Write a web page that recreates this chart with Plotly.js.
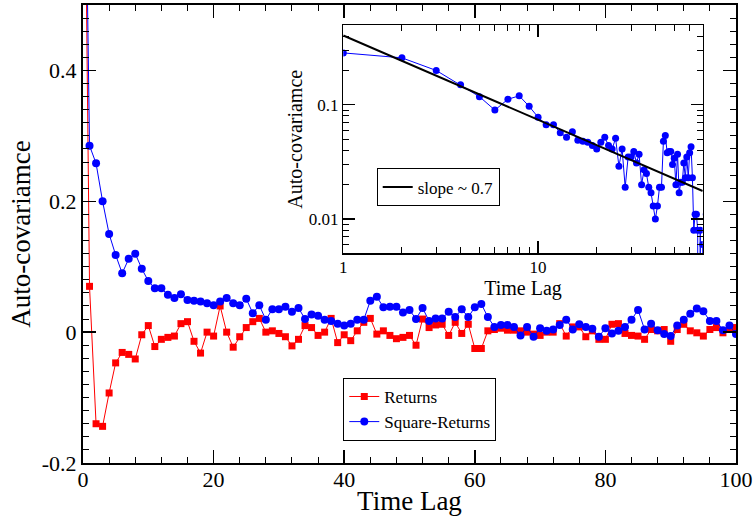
<!DOCTYPE html>
<html>
<head>
<meta charset="utf-8">
<script src="https://cdn.plot.ly/plotly-3.0.1.min.js"></script>
<style>
  html, body { margin: 0; padding: 0; background: #fff; }
  #chart { width: 755px; height: 522px; }
</style>
</head>
<body>
<div id="chart"></div>
<script>
// Time lags (x values)
const lags = [
  0, 1, 2, 3, 4, 5, 6, 7, 8, 9, 10, 11, 12, 13, 14, 15, 16, 17, 18, 19,
  20, 21, 22, 23, 24, 25, 26, 27, 28, 29, 30, 31, 32, 33, 34, 35, 36, 37, 38, 39,
  40, 41, 42, 43, 44, 45, 46, 47, 48, 49, 50, 51, 52, 53, 54, 55, 56, 57, 58, 59,
  60, 61, 62, 63, 64, 65, 66, 67, 68, 69, 70, 71, 72, 73, 74, 75, 76, 77, 78, 79,
  80, 81, 82, 83, 84, 85, 86, 87, 88, 89, 90, 91, 92, 93, 94, 95, 96, 97, 98, 99, 100
];

// Auto-covariance of returns
const returnsAc = [
  1.0, 0.070, -0.140, -0.144, -0.093, -0.047, -0.031, -0.034, -0.041, -0.004,
  0.010, -0.022, -0.011, -0.008, -0.006, 0.013, 0.016, -0.014, -0.032, 0.000,
  -0.006, 0.040, 0.000, -0.023, -0.007, 0.007, 0.016, 0.021, 0.000, 0.002,
  -0.002, -0.007, -0.021, -0.011, 0.010, 0.007, -0.005, 0.000, 0.021, -0.016,
  -0.004, -0.013, 0.002, 0.015, 0.021, -0.003, 0.002, -0.005, -0.010, -0.008,
  -0.005, -0.020, 0.020, 0.007, 0.011, 0.012, -0.005, 0.015, -0.002, 0.012,
  -0.025, -0.025, 0.002, 0.004, 0.006, 0.003, 0.003, 0.002, 0.000, -0.003,
  -0.005, 0.000, 0.000, 0.013, -0.006, 0.008, 0.008, -0.007, 0.002, -0.011,
  -0.011, 0.012, 0.013, -0.002, -0.005, -0.006, -0.011, 0.004, 0.002, 0.004,
  -0.014, 0.004, 0.012, 0.002, -0.001, -0.006, 0.004, 0.007, -0.001, 0.005, 0.007
];

// Auto-covariance of square returns
const squareAc = [
  1.0, 0.285, 0.258, 0.200, 0.150, 0.118, 0.090, 0.112, 0.120, 0.097,
  0.078, 0.067, 0.067, 0.057, 0.052, 0.058, 0.049, 0.048, 0.047, 0.044,
  0.041, 0.047, 0.052, 0.044, 0.041, 0.051, 0.029, 0.041, 0.019, 0.035,
  0.035, 0.039, 0.031, 0.037, 0.020, 0.027, 0.025, 0.019, 0.017, 0.013,
  0.010, 0.013, 0.019, 0.019, 0.048, 0.054, 0.038, 0.039, 0.039, 0.030,
  0.034, 0.020, 0.037, 0.017, 0.021, 0.021, 0.031, 0.023, 0.035, 0.023,
  0.038, 0.043, 0.023, 0.008, 0.011, 0.011, 0.008, -0.005, 0.008, -0.007,
  0.006, 0.002, 0.004, 0.011, 0.019, 0.004, 0.012, 0.008, 0.005, -0.007,
  0.006, -0.002, 0.002, 0.008, 0.019, 0.034, 0.004, 0.013, 0.003, -0.003,
  -0.006, 0.010, 0.019, 0.028, 0.036, 0.032, 0.017, 0.017, 0.003, 0.010, -0.003
];

// Power-law fit (inset)
const fitLag = [1, 70];
const fitAc = [0.405, 0.0176];

// Tick labels
const mainXTicks = [0, 20, 40, 60, 80, 100];
const mainYTicks = [-0.2, 0, 0.2, 0.4];
const mainYLabels = ["-0.2", "0", "0.2", "0.4"];
const insetXTicks = [1, 10];
const insetXLabels = ["1", "10"];
const insetYTicks = [0.01, 0.1];
const insetYLabels = ["0.01", "0.1"];
const insetXMinor = [2, 3, 4, 5, 6, 7, 8, 9, 20, 30, 40, 50, 60, 70];
const insetYMinor = [0.006, 0.007, 0.008, 0.009, 0.02, 0.03, 0.04, 0.05, 0.06, 0.07, 0.08, 0.09, 0.2, 0.3, 0.4, 0.5];

const FONT = '"Liberation Serif", "Times New Roman", serif';

const traces = [
  {
    x: lags, y: returnsAc, name: 'Returns', type: 'scatter', mode: 'lines+markers',
    xaxis: 'x', yaxis: 'y', legend: 'legend',
    line: { color: '#ff0000', width: 1 },
    marker: { color: '#ff0000', symbol: 'square', size: 7 }
  },
  {
    x: lags, y: squareAc, name: 'Square-Returns', type: 'scatter', mode: 'lines+markers',
    xaxis: 'x', yaxis: 'y', legend: 'legend',
    line: { color: '#0000ff', width: 1 },
    marker: { color: '#0000ff', symbol: 'circle', size: 8 }
  },
  {
    x: lags.slice(1), y: squareAc.slice(1), name: 'inset', type: 'scatter', mode: 'lines+markers',
    xaxis: 'x2', yaxis: 'y2', showlegend: false,
    line: { color: '#0000ff', width: 1 },
    marker: { color: '#0000ff', symbol: 'circle', size: 7 }
  },
  {
    x: fitLag, y: fitAc, name: 'slope ~ 0.7', type: 'scatter', mode: 'lines',
    xaxis: 'x2', yaxis: 'y2', legend: 'legend2',
    line: { color: '#000000', width: 2 }
  }
];

const layout = {
  width: 755, height: 522,
  margin: { l: 83, r: 19, t: 5, b: 59 },
  paper_bgcolor: '#ffffff', plot_bgcolor: '#ffffff',
  font: { family: FONT, color: '#000000' },
  showlegend: true,
  xaxis: {
    domain: [0, 1], anchor: 'y', range: [0, 100],
    showgrid: false, zeroline: false,
    showline: true, linecolor: '#000', linewidth: 2, mirror: 'ticks',
    ticks: 'inside', ticklen: 13, tickwidth: 1.5, tickcolor: '#000',
    tickmode: 'array', tickvals: mainXTicks,
    ticklabelstandoff: -4,
    tickfont: { family: FONT, size: 22, color: '#000' },
    minor: { dtick: 4, tick0: 0, ticks: 'inside', ticklen: 6, tickwidth: 1, tickcolor: '#000', showgrid: false },
    title: { text: 'Time Lag', font: { family: FONT, size: 27, color: '#000' }, standoff: 0 }
  },
  yaxis: {
    domain: [0, 1], anchor: 'x', range: [-0.2, 0.5],
    showgrid: false, zeroline: false,
    showline: true, linecolor: '#000', linewidth: 2, mirror: 'ticks',
    ticks: 'inside', ticklen: 13, tickwidth: 1.5, tickcolor: '#000',
    tickmode: 'array', tickvals: mainYTicks, ticktext: mainYLabels,
    tickfont: { family: FONT, size: 22, color: '#000' },
    minor: { dtick: 0.02, tick0: 0, ticks: 'inside', ticklen: 6, tickwidth: 1, tickcolor: '#000', showgrid: false },
    title: { text: 'Auto-covariamce', font: { family: FONT, size: 27, color: '#000' }, standoff: 3 }
  },
  xaxis2: {
    domain: [0.3986, 0.949], anchor: 'y2', type: 'log', range: [0, Math.log10(70)],
    showgrid: false, zeroline: false,
    showline: true, linecolor: '#000', linewidth: 1.5, mirror: 'ticks',
    ticks: 'inside', ticklen: 12, tickwidth: 1.2, tickcolor: '#000',
    tickmode: 'array', tickvals: insetXTicks, ticktext: insetXLabels,
    ticklabelstandoff: -2,
    tickfont: { family: FONT, size: 17, color: '#000' },
    minor: { tickmode: 'array', tickvals: insetXMinor, ticks: 'inside', ticklen: 6, tickwidth: 1, tickcolor: '#000', showgrid: false },
    title: { text: 'Time Lag', font: { family: FONT, size: 20, color: '#000' }, standoff: 0 }
  },
  yaxis2: {
    domain: [0.4575, 0.9563], anchor: 'x2', type: 'log', range: [Math.log10(0.005), Math.log10(0.5)],
    showgrid: false, zeroline: false,
    showline: true, linecolor: '#000', linewidth: 1.5, mirror: 'ticks',
    ticks: 'inside', ticklen: 12, tickwidth: 1.2, tickcolor: '#000',
    tickmode: 'array', tickvals: insetYTicks, ticktext: insetYLabels,
    tickfont: { family: FONT, size: 17, color: '#000' },
    minor: { tickmode: 'array', tickvals: insetYMinor, ticks: 'inside', ticklen: 6, tickwidth: 1, tickcolor: '#000', showgrid: false },
    title: { text: 'Auto-covariamce', font: { family: FONT, size: 20, color: '#000' }, standoff: 0 }
  },
  legend: {
    x: 0.3986, y: 0.1857, xanchor: 'left', yanchor: 'top',
    bgcolor: '#ffffff', bordercolor: '#000', borderwidth: 1,
    font: { family: FONT, size: 17, color: '#000' },
    tracegroupgap: 0, itemwidth: 30
  },
  legend2: {
    x: 0.4498, y: 0.6432, xanchor: 'left', yanchor: 'top',
    bgcolor: '#ffffff', bordercolor: '#000', borderwidth: 1,
    font: { family: FONT, size: 17, color: '#000' },
    itemwidth: 30
  }
};

Plotly.newPlot('chart', traces, layout, { displayModeBar: false, staticPlot: true });
</script>
</body>
</html>
